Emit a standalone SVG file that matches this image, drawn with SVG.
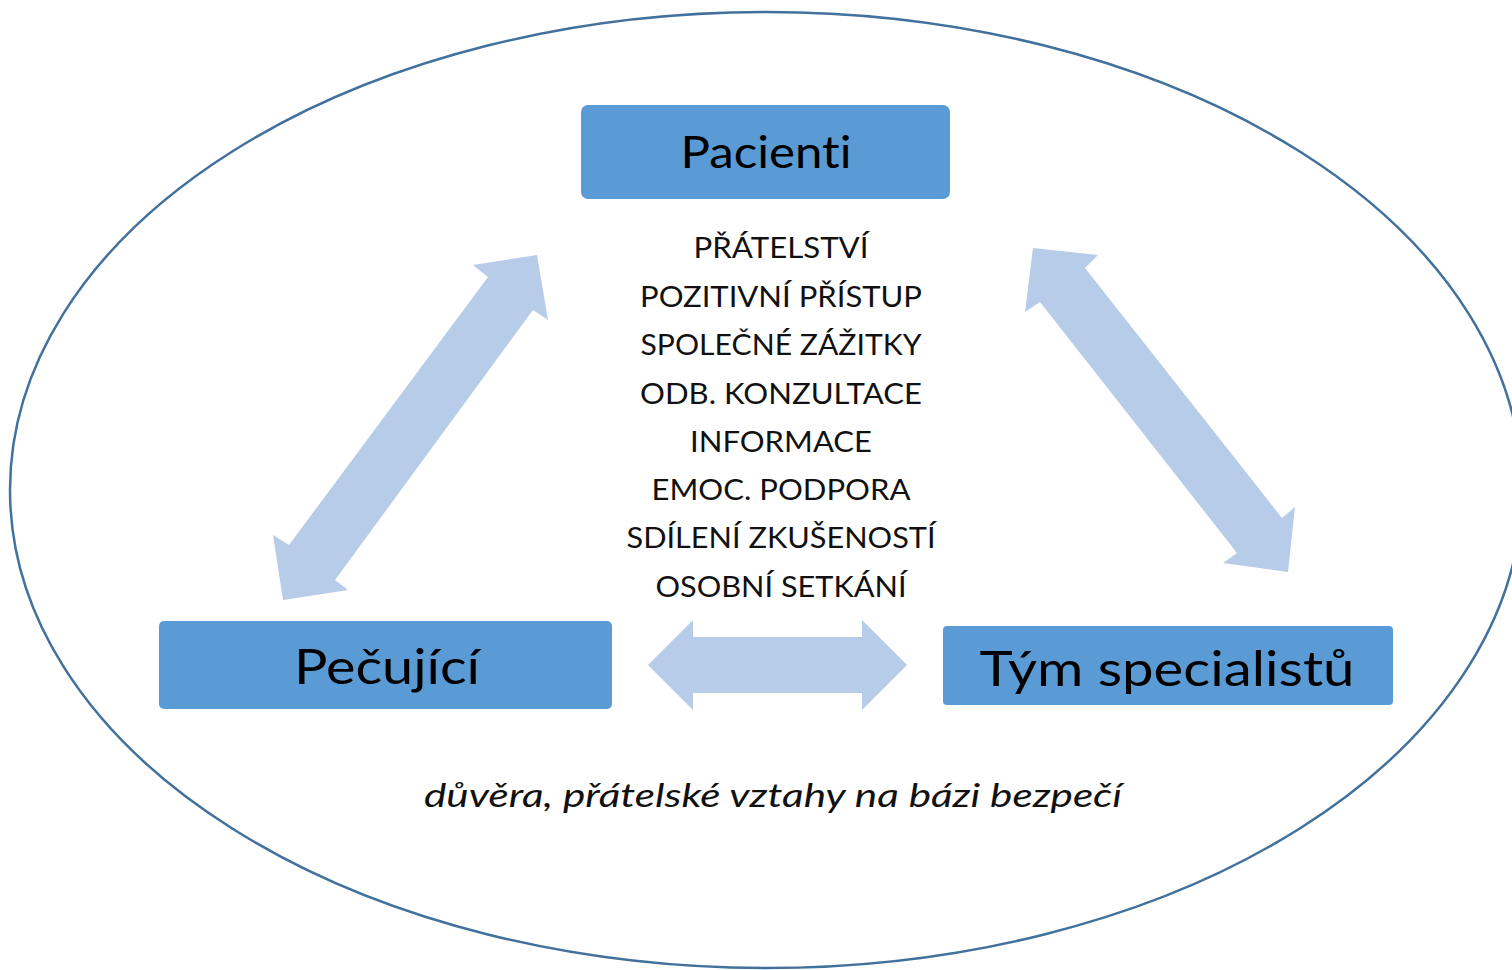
<svg xmlns="http://www.w3.org/2000/svg" width="1512" height="970" viewBox="0 0 1512 970">
<style>
text{font-variant-ligatures:none;}
.box{fill:#5b9bd5;}
.arr{fill:#b6cce8;}
.lbl{font-family:Lato,"Open Sans",sans-serif;fill:#000;text-anchor:middle;}
.item{font-family:Lato,"Open Sans",sans-serif;font-size:28px;fill:#111;text-anchor:middle;}
.note{font-family:Lato,"Open Sans",sans-serif;font-size:32px;font-style:italic;fill:#111;text-anchor:middle;}
</style>
<rect width="1512" height="970" fill="#fff"/>
<ellipse cx="766" cy="490" rx="756" ry="478" fill="none" stroke="#41719c" stroke-width="2.5"/>
<g id="connectors">
<polygon class="arr" points="537,255 548,320 533,310 335,580 348,590 283,600 273,535 289,545 488,277 473,265"/>
<polygon class="arr" points="1033,248 1098,255 1085,268 1282,518 1295,507 1288,572 1223,563 1237,553 1040,302 1025,312"/>
<polygon class="arr" points="648,665 693,620 693,637 862,637 862,620 907,665 862,710 862,693 693,693 693,710"/>
</g>
<g id="pacienti">
<rect class="box" x="581" y="105" width="369" height="94" rx="7"/>
<text class="lbl" x="766" y="168" font-size="44" textLength="171" lengthAdjust="spacingAndGlyphs">Pacienti</text>
</g>
<g id="pecujici">
<rect class="box" x="159" y="621" width="453" height="88" rx="5"/>
<text class="lbl" x="387" y="684" font-size="48" textLength="186" lengthAdjust="spacingAndGlyphs">Pečující</text>
</g>
<g id="tym">
<rect class="box" x="943" y="626" width="450" height="79" rx="4"/>
<text class="lbl" x="1167" y="686" font-size="48" textLength="375" lengthAdjust="spacingAndGlyphs">Tým specialistů</text>
</g>
<g id="aktivity">
<text class="item" x="781" y="258" textLength="175" lengthAdjust="spacingAndGlyphs">PŘÁTELSTVÍ</text>
<text class="item" x="781" y="307" textLength="282" lengthAdjust="spacingAndGlyphs">POZITIVNÍ PŘÍSTUP</text>
<text class="item" x="781" y="355" textLength="281" lengthAdjust="spacingAndGlyphs">SPOLEČNÉ ZÁŽITKY</text>
<text class="item" x="781" y="404" textLength="282" lengthAdjust="spacingAndGlyphs">ODB. KONZULTACE</text>
<text class="item" x="781" y="452" textLength="182" lengthAdjust="spacingAndGlyphs">INFORMACE</text>
<text class="item" x="781" y="500" textLength="259" lengthAdjust="spacingAndGlyphs">EMOC. PODPORA</text>
<text class="item" x="781" y="548" textLength="309" lengthAdjust="spacingAndGlyphs">SDÍLENÍ ZKUŠENOSTÍ</text>
<text class="item" x="781" y="597" textLength="251" lengthAdjust="spacingAndGlyphs">OSOBNÍ SETKÁNÍ</text>
</g>
<g id="zaklad">
<text class="note" x="773" y="807" textLength="698" lengthAdjust="spacingAndGlyphs">důvěra, přátelské vztahy na bázi bezpečí</text>
</g>
</svg>
